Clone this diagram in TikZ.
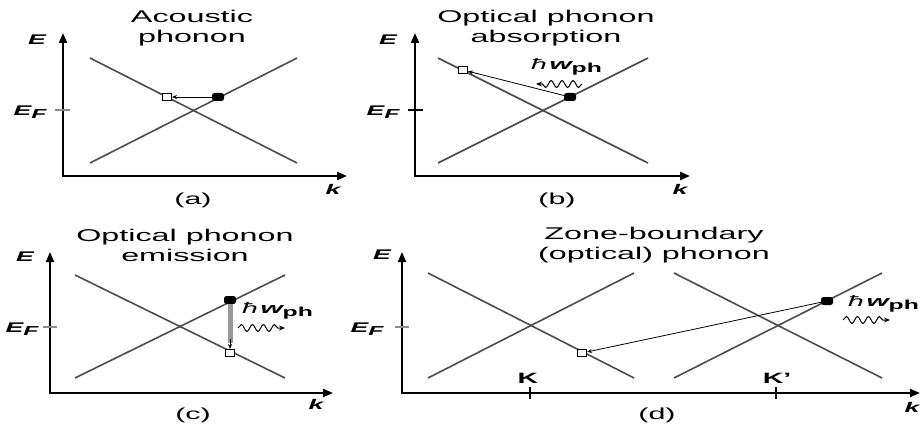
\documentclass[tikz,border=0pt]{standalone}
\usepackage{fontspec}
\setmainfont{Liberation Sans}[FakeStretch=1.9]
\usetikzlibrary{arrows.meta, decorations.pathmorphing}

\newcommand{\bas}[1]{\raisebox{-0.45ex}{\fontsize{13}{13}\selectfont #1}}

\begin{document}
\begin{tikzpicture}[x=1pt, y=-1pt,
    axe/.style={line width=2pt, {Triangle[length=10pt,width=8pt]}-{Triangle[length=10pt,width=8pt]}},
    bande/.style={line width=1.6pt, color=black!70},
    repere/.style={line width=1.2pt, color=black!45},
    titre/.style={align=center, font=\fontsize{17}{20}\selectfont},
    etiq/.style={font=\fontsize{14}{14}\selectfont\bfseries\itshape, inner sep=0pt},
    panneau/.style={font=\fontsize{16}{16}\selectfont, inner sep=0pt},
    energie/.style={font=\fontsize{15}{15}\selectfont, inner sep=0pt, anchor=west},
    electron/.style={rectangle, rounded corners=2.5pt, fill=black, minimum width=12pt,
      minimum height=8pt, inner sep=0pt},
    trou/.style={rectangle, draw=black, line width=1pt, fill=white, minimum width=9pt,
      minimum height=7pt, inner sep=0pt},
    fleche/.style={-{Stealth[length=5pt,width=4pt]}, line width=0.8pt},
    phonon/.style={decorate, decoration={snake, amplitude=3.5pt, segment length=11pt,
      post length=5pt}, -{Stealth[length=6pt,width=5pt]}, line width=1pt}
  ]
    \useasboundingbox (0,0) rectangle (924,425);

    % (a) acoustic phonon
    \draw[axe] (63,33) -- (63,176) -- (347,176);
    \draw[repere] (55,110) -- (70,110);
    \draw[bande] (90,58) -- (297,163);
    \draw[bande] (90,163) -- (297,58);
    \node[titre] (ta) at (192,28) {Acoustic\\phonon};
    \node[etiq] (Ea) at (37,40) {E};
    \node[etiq] (EFa) at (30,112) {E\bas{F}};
    \node[etiq] (ka) at (333,189) {k};
    \node[panneau] (la) at (193,200) {(a)};
    \node[trou] (ha) at (167,97) {};
    \node[electron] (ea) at (218,97) {};
    \draw[fleche] (ea) -- (ha);

    % (b) optical phonon absorption
    \draw[axe] (415,33) -- (415,176) -- (690,176);
    \draw[repere, color=black] (408,110) -- (423,110);
    \draw[bande] (438,58) -- (648,163);
    \draw[bande] (438,163) -- (648,58);
    \node[titre] (tb) at (546,28) {Optical phonon\\absorption};
    \node[etiq] (Eb) at (388,40) {E};
    \node[etiq] (EFb) at (383,112) {E\bas{F}};
    \node[etiq] (kb) at (680,189) {k};
    \node[panneau] (lb) at (557,200) {(b)};
    \node[trou] (hb) at (463,70) {};
    \node[electron] (eb) at (570,97) {};
    \draw[fleche] (eb) -- (hb);
    \node[energie] (pb) at (531,67) {\itshape ħ\,{\bfseries w}\bas{\bfseries\upshape ph}};
    \coordinate (wb1) at (582,84);
    \coordinate (wb2) at (536,84);
    \draw[phonon] (wb1) -- (wb2);

    % (c) optical phonon emission
    \draw[axe] (50,252) -- (50,393) -- (333,393);
    \draw[repere] (43,327) -- (57,327);
    \draw[bande] (75,275) -- (285,378);
    \draw[bande] (75,378) -- (285,275);
    \node[titre] (tc) at (185,245) {Optical phonon\\emission};
    \node[etiq] (Ec) at (25,257) {E};
    \node[etiq] (EFc) at (22,329) {E\bas{F}};
    \node[etiq] (kc) at (316,404) {k};
    \node[panneau] (lc) at (193,415) {(c)};
    \node[electron] (ec) at (230,300) {};
    \node[trou] (hc) at (230,353) {};
    \coordinate (bc) at (230,343);
    \coordinate (bc2) at (230,339);
    \draw[line width=5pt, black!40] (ec) -- (bc);
    \draw[fleche] (bc2) -- (hc);
    \node[energie] (pc) at (242,311) {\itshape ħ\,{\bfseries w}\bas{\bfseries\upshape ph}};
    \coordinate (wc1) at (238,328);
    \coordinate (wc2) at (285,328);
    \draw[phonon] (wc1) -- (wc2);

    % (d) zone-boundary phonon
    \draw[axe] (402,252) -- (402,393) -- (920,393);
    \draw[repere] (395,327) -- (409,327);
    \draw[line width=1.4pt] (530,387) -- (530,399);
    \draw[line width=1.4pt] (776,387) -- (776,399);
    \draw[bande] (428,273) -- (634,378);
    \draw[bande] (428,378) -- (634,273);
    \draw[bande] (674,273) -- (882,378);
    \draw[bande] (674,378) -- (882,273);
    \node[titre] (td) at (654,245) {Zone-boundary\\(optical) phonon};
    \node[etiq] (Ed) at (382,255) {E};
    \node[etiq] (EFd) at (367,329) {E\bas{F}};
    \node[etiq] (kd) at (912,407) {k};
    \node[panneau] (ld) at (657,415) {(d)};
    \node[panneau, font=\fontsize{15}{15}\selectfont\bfseries] (K) at (528,378) {K};
    \node[panneau, font=\fontsize{15}{15}\selectfont\bfseries] (Kp) at (777,378) {K'};
    \node[trou] (hd) at (582,353) {};
    \node[electron] (ed) at (827,301) {};
    \draw[fleche] (ed) -- (hd);
    \node[energie] (pd) at (848,304) {\itshape ħ\,{\bfseries w}\bas{\bfseries\upshape ph}};
    \coordinate (wd1) at (843,320);
    \coordinate (wd2) at (890,320);
    \draw[phonon] (wd1) -- (wd2);
  \end{tikzpicture}
\end{document}
